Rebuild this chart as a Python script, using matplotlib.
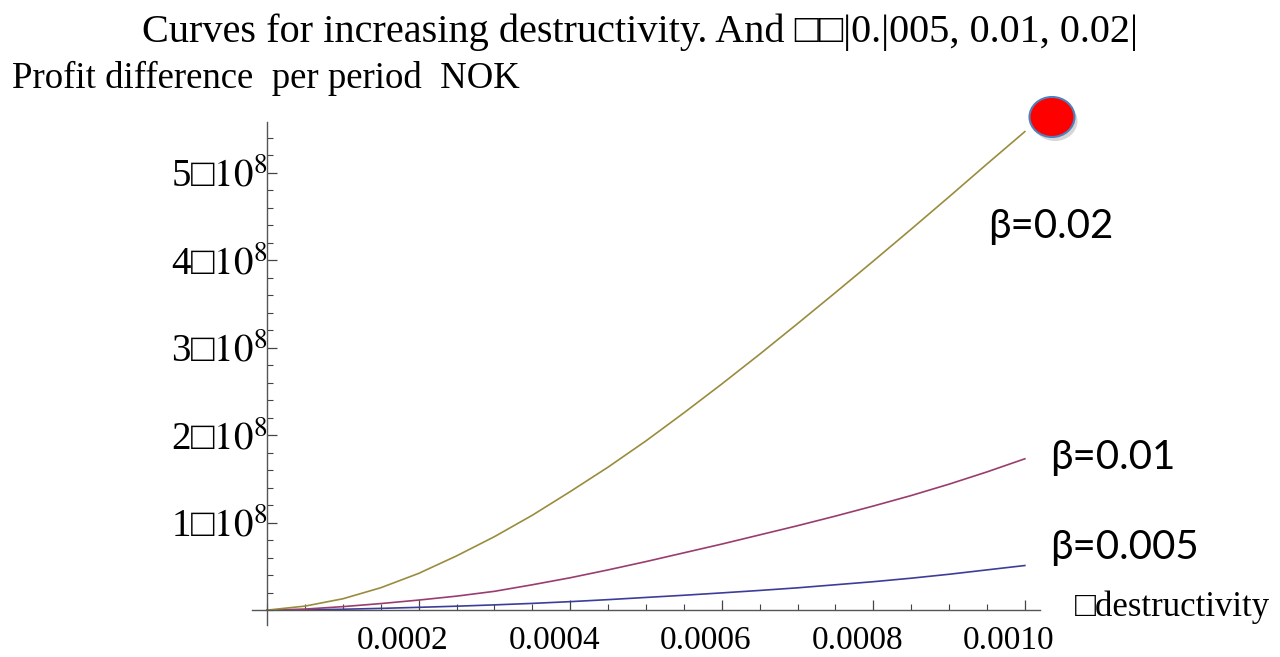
import numpy as np
import matplotlib.pyplot as plt
import matplotlib.transforms as mtransforms
from matplotlib.patches import Ellipse
from matplotlib.ticker import MultipleLocator

plt.rcParams['font.family'] = ['Liberation Serif', 'DejaVu Sans']
plt.rcParams['mathtext.fontset'] = 'stix'

# values (profit difference per period, NOK)
destructivity = [0, 0.00005, 0.0001, 0.00015, 0.0002, 0.00025, 0.0003,
                 0.00035, 0.0004, 0.00045, 0.0005, 0.00055, 0.0006,
                 0.00065, 0.0007, 0.00075, 0.0008, 0.00085, 0.0009,
                 0.00095, 0.0010]
profit_b005 = [0, 0.004e8, 0.01e8, 0.02e8, 0.032e8, 0.045e8, 0.06e8,
               0.077e8, 0.097e8, 0.12e8, 0.145e8, 0.17e8, 0.197e8,
               0.225e8, 0.255e8, 0.29e8, 0.325e8, 0.365e8, 0.41e8,
               0.46e8, 0.51e8]
profit_b01 = [0, 0.012e8, 0.04e8, 0.075e8, 0.115e8, 0.16e8, 0.215e8,
              0.29e8, 0.37e8, 0.46e8, 0.555e8, 0.655e8, 0.755e8,
              0.86e8, 0.965e8, 1.075e8, 1.19e8, 1.31e8, 1.44e8,
              1.58e8, 1.73e8]
profit_b02 = [0, 0.046e8, 0.13e8, 0.256e8, 0.42e8, 0.62e8, 0.84e8,
              1.085e8, 1.355e8, 1.635e8, 1.935e8, 2.255e8, 2.585e8,
              2.925e8, 3.275e8, 3.63e8, 3.99e8, 4.355e8, 4.725e8,
              5.10e8, 5.47e8]
beta_labels = ["β=0.005", "β=0.01", "β=0.02"]
x_ticks = [0.0002, 0.0004, 0.0006, 0.0008, 0.0010]
x_ticklabels = ["0.0002", "0.0004", "0.0006", "0.0008", "0.0010"]
y_ticks = [1e8, 2e8, 3e8, 4e8, 5e8]
y_ticklabels = ["%d□$10^{8}$" % k for k in range(1, 6)]

fig = plt.figure(figsize=(12.8, 6.57), dpi=100)
ax = fig.add_axes([252 / 1280, 32 / 657, 788 / 1280, 503 / 657])

ax.plot(destructivity, profit_b005, color=(0.24, 0.24, 0.6), lw=1.2)
ax.plot(destructivity, profit_b01, color=(0.6, 0.24, 0.44), lw=1.2)
ax.plot(destructivity, profit_b02, color=(0.6, 0.55, 0.24), lw=1.2)

ax.set_xlim(-0.00002, 0.00102)
ax.set_ylim(-0.17e8, 5.58e8)

for s in ['top', 'right']:
    ax.spines[s].set_visible(False)
ax.spines['left'].set_position(('data', 0))
ax.spines['bottom'].set_position(('data', 0))
for s in ['left', 'bottom']:
    ax.spines[s].set_color('#555555')
    ax.spines[s].set_linewidth(1.0)

ax.set_xticks(x_ticks)
ax.set_xticklabels(x_ticklabels)
ax.xaxis.set_minor_locator(MultipleLocator(0.00005))
ax.set_yticks(y_ticks)
ax.set_yticklabels(y_ticklabels)
ax.yaxis.set_minor_locator(MultipleLocator(0.2e8))
ax.tick_params(which='major', direction='in', length=7, width=0.9, color='#444444')
ax.tick_params(which='minor', direction='in', length=4, width=0.8, color='#444444')
ax.tick_params(axis='x', labelsize=24, pad=11)
ax.tick_params(axis='y', labelsize=28, pad=0)

# labels sit a bit left of their ticks in the reference
shift = mtransforms.ScaledTranslation(-16 / 100, 0, fig.dpi_scale_trans)
for lab in ax.get_xticklabels():
    lab.set_transform(lab.get_transform() + shift)

fig.text(0.5, 1 - 32 / 657, "Curves for increasing destructivity. And □□|0.|005, 0.01, 0.02|",
         ha='center', va='center', fontsize=29)
fig.text(12 / 1280, 1 - 78 / 657, "Profit difference  per period  NOK",
         ha='left', va='center', fontsize=26.5)
fig.text(1075 / 1280, 1 - 607 / 657, "□destructivity",
         ha='left', va='center', fontsize=25)

# beta annotations
beta_pos = [(1050, 548), (1050, 458), (988, 227)]
for txt, (px, py) in zip(beta_labels, beta_pos):
    fig.text(px / 1280, 1 - py / 657, txt, ha='left', va='center',
             fontsize=29, family=['Lato', 'DejaVu Sans'])

# red marker dot with a soft shadow
fig.patches.append(Ellipse((1055 / 1280, 1 - 121 / 657), 45 / 1280, 40 / 657,
                           transform=fig.transFigure, facecolor='#bbbbbb',
                           edgecolor='none', alpha=0.6))
fig.patches.append(Ellipse((1052 / 1280, 1 - 117 / 657), 45 / 1280, 40 / 657,
                           transform=fig.transFigure, facecolor='#ff0000',
                           edgecolor='#4f81bd', linewidth=1.5))

plt.savefig('out.png', dpi=100)
